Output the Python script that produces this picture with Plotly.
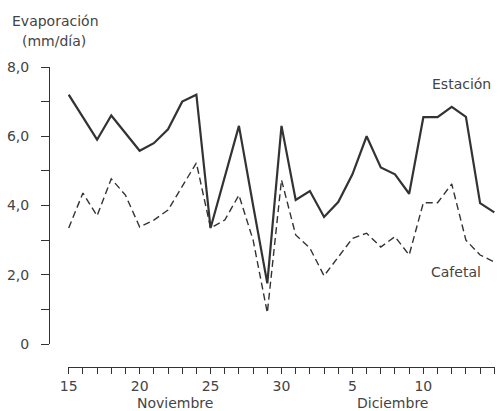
import plotly.graph_objects as go

# Days from 15 Nov (index 0) to 15 Dec (index 30)
days = list(range(31))
estacion = [7.2, 6.55, 5.9, 6.6, 6.1, 5.58, 5.8, 6.2, 7.0, 7.2,
            3.35, 4.8, 6.3, 4.0, 1.75, 6.3, 4.16, 4.42, 3.67, 4.1,
            4.9, 6.0, 5.1, 4.9, 4.34, 6.55, 6.55, 6.85, 6.56, 4.07, 3.8]
cafetal = [3.35, 4.36, 3.7, 4.77, 4.3, 3.38, 3.58, 3.87, 4.55, 5.23,
           3.35, 3.58, 4.3, 3.0, 0.9, 4.74, 3.15, 2.77, 1.97, 2.5,
           3.05, 3.2, 2.8, 3.1, 2.57, 4.08, 4.08, 4.62, 3.0, 2.57, 2.37]

x_tickvals = list(range(31))
x_ticktext = ["15" if i == 0 else "20" if i == 5 else "25" if i == 10 else
              "30" if i == 15 else "5" if i == 20 else "10" if i == 25 else
              "15" if i == 30 else "" for i in x_tickvals]
y_tickvals = list(range(9))
y_ticktext = ["0", "", "2,0", "", "4,0", "", "6,0", "", "8,0"]
months = ["Noviembre", "Diciembre"]
month_pos = [7.5, 22.8]

ink = "#333333"
txt = "#444444"
font = "DejaVu Sans, Liberation Sans, Arial, sans-serif"
fs = 14
pad = "\u00a0\u00a0"

fig = go.Figure()
fig.add_trace(go.Scatter(x=days, y=estacion, mode="lines",
                         line=dict(color=ink, width=2.2), name="Estación"))
fig.add_trace(go.Scatter(x=days, y=cafetal, mode="lines",
                         line=dict(color=ink, width=1.4, dash="7px,4px"), name="Cafetal"))

W, H = 501, 411
ml, mr, mt, mb = 49, 6, 60, 44
pw = W - ml - mr
ph = H - mt - mb

def px2fx(px):
    return (px - ml) / pw

def py2fy(py):
    return (H - mb - py) / ph

fig.update_layout(
    width=W, height=H,
    margin=dict(l=ml, r=mr, t=mt, b=mb, autoexpand=False),
    paper_bgcolor="white", plot_bgcolor="white",
    showlegend=False,
    font=dict(family=font, size=fs, color=txt),
    xaxis=dict(domain=[px2fx(68), 1], range=[-0.05, 30.05],
               anchor="free", position=0,
               showline=True, linecolor=ink, linewidth=1.3,
               ticks="outside", ticklen=6, tickwidth=1.2, tickcolor=ink,
               tickvals=x_tickvals, ticktext=x_ticktext,
               showgrid=False, zeroline=False,
               tickfont=dict(size=fs, color=txt)),
    yaxis=dict(domain=[py2fy(344), py2fy(67)], range=[0, 8],
               anchor="free", position=0,
               showline=True, linecolor=ink, linewidth=1.3,
               ticks="outside", ticklen=8, tickwidth=1.2, tickcolor=ink,
               tickvals=y_tickvals, ticktext=[t + pad if t else t for t in y_ticktext],
               showgrid=False, zeroline=False,
               tickfont=dict(size=fs, color=txt)),
)

annotations = [
    dict(text="Evaporación", x=px2fx(55), y=py2fy(21), xref="paper", yref="paper",
         showarrow=False, xanchor="center", yanchor="middle", font=dict(size=fs)),
    dict(text="(mm/día)", x=px2fx(54), y=py2fy(41), xref="paper", yref="paper",
         showarrow=False, xanchor="center", yanchor="middle", font=dict(size=fs)),
    dict(text="Estación", x=27.7, y=7.51, xref="x", yref="y",
         showarrow=False, xanchor="center", yanchor="middle", font=dict(size=fs)),
    dict(text="Cafetal", x=27.3, y=2.08, xref="x", yref="y",
         showarrow=False, xanchor="center", yanchor="middle", font=dict(size=fs)),
]
for m, p in zip(months, month_pos):
    annotations.append(dict(text=m, x=p, y=py2fy(403), xref="x", yref="paper",
                            showarrow=False, xanchor="center", yanchor="middle",
                            font=dict(size=fs)))
fig.update_layout(annotations=annotations)

fig.write_html("out.html")
